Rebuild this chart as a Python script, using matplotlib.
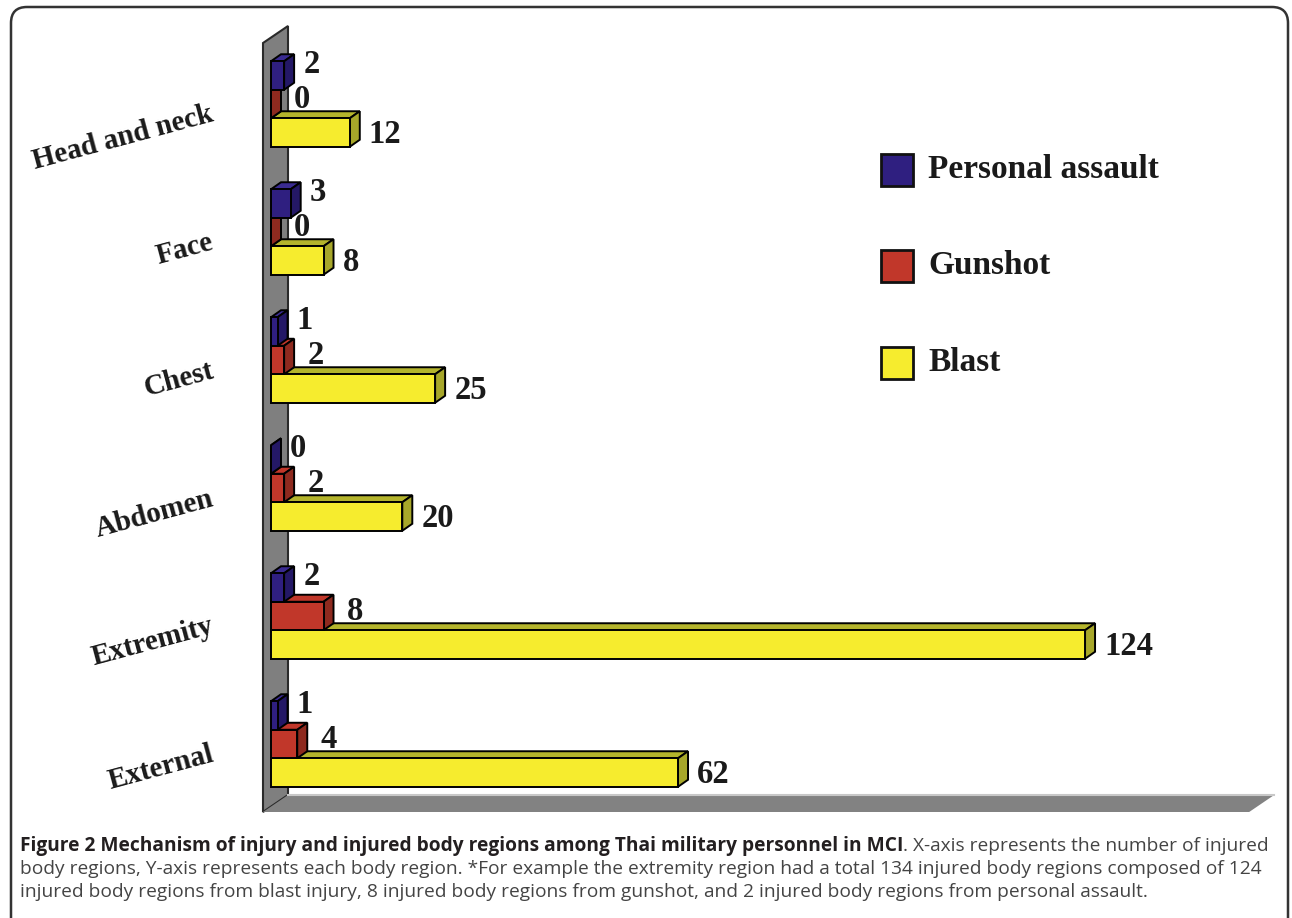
import matplotlib.pyplot as plt
from matplotlib.patches import Polygon, Rectangle, FancyBboxPatch

# data
regions = ["Head and neck", "Face", "Chest", "Abdomen", "Extremity", "External"]
personal_assault = [2, 3, 1, 0, 2, 1]
gunshot = [0, 0, 2, 2, 8, 4]
blast = [12, 8, 25, 20, 124, 62]
series_names = ["Personal assault", "Gunshot", "Blast"]

# colours: front, top, side
colors = {
    "Personal assault": ("#2f1f80", "#3a2b92", "#241866"),
    "Gunshot": ("#c1372a", "#c1372a", "#8e2a1f"),
    "Blast": ("#f6ec2e", "#b4b42c", "#a7a72a"),
}

W, H, DPI = 1292, 918, 100
fig = plt.figure(figsize=(W / DPI, H / DPI), dpi=DPI)
ax = fig.add_axes([0, 0, 1, 1])
ax.set_axis_off()


def pt(n):
    # pixels -> points
    return n * 72 / DPI


# pixel scale of the plot
sx, sy = 6.565, 128
x0, y0 = 271, 104
ax.set_xlim(-x0 / sx, (W - x0) / sx)
ax.set_ylim((H - y0) / sy, -y0 / sy)

bh = 28.5 / sy          # bar thickness
ddx, ddy = 10 / sx, -7 / sy   # bar depth

# side wall and floor
wx = -8 / sx
wdx, wdy = 25 / sx, -17 / sy
wy_top, wy_bot = (43 - y0) / sy, (812 - y0) / sy
x_end = 149
ax.add_patch(Polygon([(wx, wy_top), (wx + wdx, wy_top + wdy), (wx + wdx, wy_bot + wdy), (wx, wy_bot)],
                     closed=True, fc="#7f7f7f", ec="#2a2a2a", lw=1.5, zorder=1))
ax.add_patch(Polygon([(wx, wy_bot), (wx + wdx, wy_bot + wdy), (x_end + wdx, wy_bot + wdy), (x_end, wy_bot)],
                     closed=True, fc="#828282", ec="none", zorder=1))
ax.plot([wx + wdx, x_end + wdx], [wy_bot + wdy, wy_bot + wdy], color="#c8c8c8", lw=1.5, zorder=1)


def box(value, yc, name, z):
    front, top_c, side_c = colors[name]
    top, bot = yc - bh / 2, yc + bh / 2
    ax.add_patch(Polygon([(0, top), (value, top), (value + ddx, top + ddy), (ddx, top + ddy)],
                         closed=True, fc=top_c, ec="black", lw=1.4, zorder=z))
    ax.add_patch(Polygon([(value, top), (value + ddx, top + ddy), (value + ddx, bot + ddy), (value, bot)],
                         closed=True, fc=side_c, ec="black", lw=1.4, zorder=z))
    ax.barh(yc, value, height=bh, left=0, color=front, edgecolor="black", linewidth=1.4, zorder=z)


label_font = dict(family="Liberation Serif", weight="bold", color="#1a1a1a")
# label offsets (px) for each series
offsets = {"Personal assault": (9, -11), "Gunshot": (13, -4), "Blast": (9, 2)}

for i, region in enumerate(regions):
    series = [("Blast", blast[i], i + bh), ("Gunshot", gunshot[i], i), ("Personal assault", personal_assault[i], i - bh)]
    for k, (name, v, yc) in enumerate(series):
        box(v, yc, name, 3 + k)
        ox, oy = offsets[name]
        ax.annotate(str(v), xy=(v + ddx, yc), xytext=(pt(ox), -pt(oy)), textcoords="offset points",
                    ha="left", va="center", fontsize=23.5, zorder=10, **label_font)
    ax.annotate(region, xy=(0, i), xytext=(pt(-58), -pt(10)), textcoords="offset points",
                ha="right", va="center", rotation=15, rotation_mode="anchor", fontsize=21, **label_font)

# legend
leg_y = [170, 266, 363]
for name, yy in zip(series_names, leg_y):
    fig.add_artist(Rectangle((881 / W, 1 - (yy + 16) / H), 32 / W, 32 / H, transform=fig.transFigure,
                             fc=colors[name][0], ec="#111111", lw=2))
    fig.text(928 / W, 1 - yy / H, name, ha="left", va="center", fontsize=24, **label_font)

# rounded frame (display pixels)
fig.add_artist(FancyBboxPatch((11, -20), 1277, 931, transform=None,
                              boxstyle="round,pad=0,rounding_size=16", fc="none", ec="#333333", lw=1.8))

# caption
cap_size = 13.8
t1 = fig.text(20 / W, 1 - 851 / H,
              "Figure 2 Mechanism of injury and injured body regions among Thai military personnel in MCI",
              ha="left", va="baseline", weight="bold", family="Open Sans", fontsize=cap_size, color="#231f20")
fig.canvas.draw()
bb = t1.get_window_extent()
cap_font = dict(family="Open Sans", fontsize=cap_size, color="#444444")
fig.text(bb.x1 / W, 1 - 851 / H, ". X-axis represents the number of injured", ha="left", va="baseline",
         **cap_font)
fig.text(20 / W, 1 - 874 / H,
         "body regions, Y-axis represents each body region. *For example the extremity region had a total 134 "
         "injured body regions composed of 124", ha="left", va="baseline", **cap_font)
fig.text(20 / W, 1 - 897 / H,
         "injured body regions from blast injury, 8 injured body regions from gunshot, and 2 injured body "
         "regions from personal assault.", ha="left", va="baseline", **cap_font)

plt.savefig("out.png", dpi=DPI)
